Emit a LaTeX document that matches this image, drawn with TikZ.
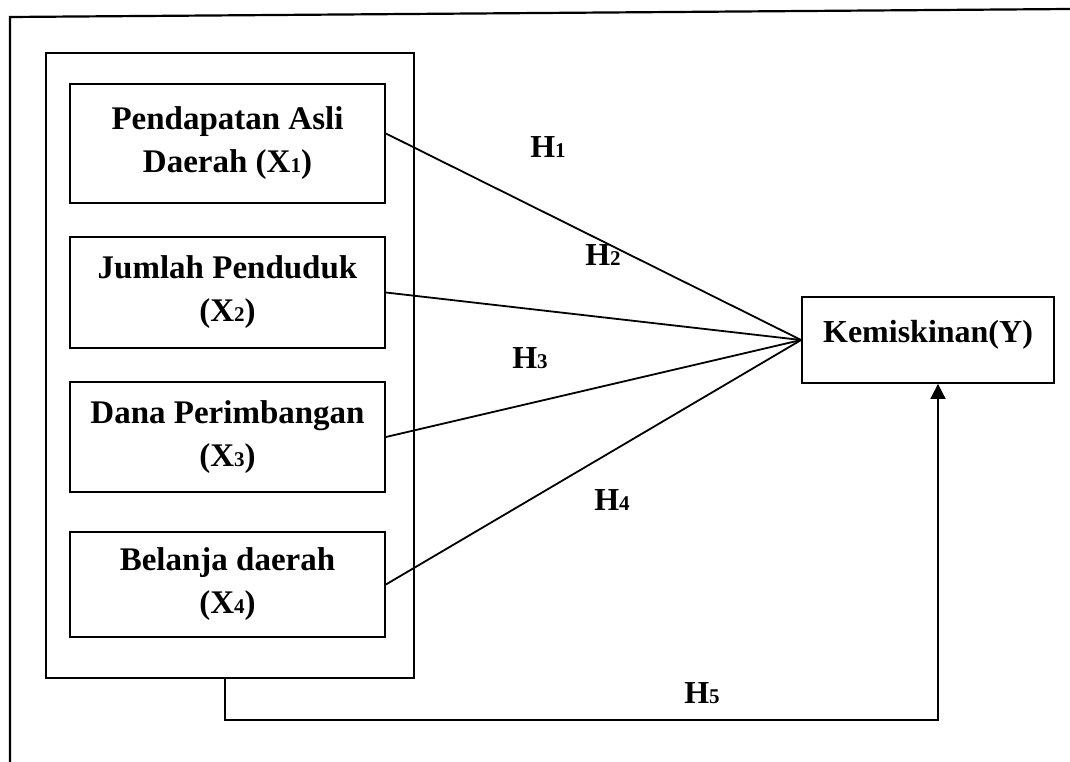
\documentclass[tikz,border=0pt]{standalone}
\usepackage{fontspec}
\setmainfont{Liberation Serif}
\usetikzlibrary{arrows.meta}

\newcommand{\hsub}[1]{{\fontsize{21}{21}\selectfont #1}}

\tikzset{
  varbox/.style={draw,line width=1.8pt,minimum width=315pt,align=center,inner sep=0pt,
    font=\bfseries\fontsize{33}{43}\selectfont},
  hlabel/.style={inner sep=0pt},
  link/.style={line width=1.8pt}
}

\begin{document}
\begin{tikzpicture}[x=1pt,y=-1pt,font=\fontsize{32}{40}\selectfont\bfseries]
      \useasboundingbox (0,0) rectangle (1070,762);
      % frame
      \draw[line width=2.2pt] (10,762) -- (10,17) -- (1070,9);
      \draw
        (230,365.5) node[draw,line width=1.8pt,minimum width=368pt,minimum height=625pt] (grp){}
        (227.5,143.5) node[varbox,minimum height=119pt] (x1){Pendapatan Asli\\Daerah (X\hsub{1})}
        (227.5,292.5) node[varbox,minimum height=111pt] (x2){Jumlah Penduduk\\(X\hsub{2})}
        (227.5,437) node[varbox,minimum height=110pt] (x3){Dana Perimbangan\\(X\hsub{3})}
        (227.5,584.5) node[varbox,minimum height=105pt] (x4){Belanja daerah\\(X\hsub{4})}
        (928,340) node[draw,line width=1.8pt,minimum width=252pt,minimum height=86pt,inner sep=0pt,text depth=18pt] (y){Kemiskinan(Y)};
      \begin{scope}[link]
        \draw ([yshift=10pt]x1.east) -- (y.west);
        \draw (x2.east) -- (y.west);
        \draw (x3.east) -- (y.west);
        \draw (x4.east) -- (y.west);
        \draw[-{Triangle[length=15pt,width=15pt]}] ([xshift=-5pt]grp.south) -- ++(0,41) -| ([xshift=10pt]y.south);
      \end{scope}
      \node[hlabel] (h1) at (548,147) {H\hsub{1}};
      \node[hlabel] (h2) at (603,255) {H\hsub{2}};
      \node[hlabel] (h3) at (530,358) {H\hsub{3}};
      \node[hlabel] (h4) at (612,500) {H\hsub{4}};
      \node[hlabel] (h5) at (702,693) {H\hsub{5}};
    \end{tikzpicture}
\end{document}
